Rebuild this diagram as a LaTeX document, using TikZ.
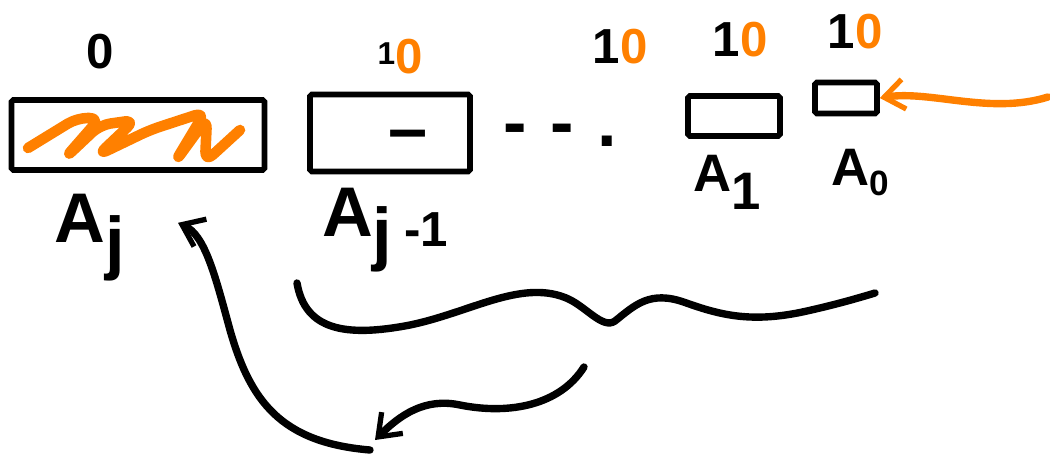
\documentclass[tikz,border=0pt]{standalone}
\usepackage{fontspec}
\setmainfont{Liberation Sans}
\usepackage{tikz}
\usetikzlibrary{arrows.meta,positioning}
\definecolor{pen}{HTML}{FF8000}

\begin{document}
\begin{tikzpicture}[
cell/.style={rectangle, draw, line width=3.2pt, rounded corners=1pt, inner sep=0pt},
bitlbl/.style={font=\fontsize{28}{30}\selectfont\bfseries},
celllbl/.style={font=\fontsize{40}{44}\selectfont\bfseries},
stroke/.style={line width=4.2pt, line cap=round, line join=round},
flow/.style={stroke, -{Straight Barb[length=4mm,width=6mm,line width=3pt]}},
inflow/.style={flow, draw=pen}
]
\useasboundingbox (0,0) rectangle (21,-9.14);
% the cells
\node[cell, minimum width=50.6mm, minimum height=14mm] (Aj) at (2.76,-2.7) {};
\node[cell, minimum width=32mm, minimum height=15.4mm, celllbl] (Ajm) at (7.8,-2.66) {\hspace{.5em}\raisebox{-.55em}{--}};
\node[celllbl] (dots) at (11.2,-2.7) {-\,\,-\,\,.};
\node[cell, minimum width=18.4mm, minimum height=8mm] (A1) at (14.68,-2.32) {};
\node[cell, minimum width=12.4mm, minimum height=6.2mm] (A0) at (16.92,-1.96) {};
% scribble in the top cell
\draw[stroke, pen, line width=6pt, rounded corners=6pt] (0.56,-2.96) -- (1.54,-2.36) -- (2.0,-2.36) -- (1.3,-3.16) -- (2.0,-2.5) -- (2.7,-2.4) -- (1.96,-3.1) -- (3.0,-2.6) -- (4.1,-2.24) -- (3.5,-3.24) -- (4.14,-2.36) -- (4.1,-3.24) -- (4.8,-2.6);
% bits above
\node[bitlbl] (bj) at (2.0,-1.04) {0};
\node[bitlbl] (bjm) at (8.0,-1.14) {\raisebox{.2em}{\fontsize{18}{20}\selectfont 1}\textcolor{pen}{0}};
\node[bitlbl] (bd) at (12.4,-0.94) {1\textcolor{pen}{0}};
\node[bitlbl] (b1) at (14.8,-0.8) {1\textcolor{pen}{0}};
\node[bitlbl] (b0) at (17.1,-0.64) {1\textcolor{pen}{0}};
% names below
\node[celllbl] (nj) at (1.8,-4.75) {A\raisebox{-.35em}{j}};
\node[celllbl] (njm) at (7.7,-4.6) {A\raisebox{-.3em}{j}\,\raisebox{-.15em}{\fontsize{28}{30}\selectfont -1}};
\node[celllbl, font=\fontsize{30}{34}\selectfont\bfseries] (n1) at (14.55,-3.65) {A\raisebox{-.35em}{1}};
\node[celllbl, font=\fontsize{30}{34}\selectfont\bfseries] (n0) at (17.2,-3.45) {A\raisebox{-.2em}{\fontsize{20}{22}\selectfont 0}};
% incoming bit
\coordinate (src) at (20.96,-1.94);
\draw[inflow] (src) .. controls (19.8,-2.3) and (18.6,-1.8) .. (A0.east);
% brace under the low cells
\coordinate (bl) at (5.94,-5.66);
\coordinate (br) at (17.5,-5.86);
\draw[stroke] (bl) .. controls (6.1,-6.6) and (6.9,-6.75) .. (8.2,-6.5)
  .. controls (9.4,-6.25) and (10.4,-5.6) .. (11.3,-5.95)
  .. controls (11.7,-6.1) and (12.05,-6.6) .. (12.3,-6.42)
  .. controls (12.7,-6.1) and (13.0,-5.8) .. (13.7,-6.05)
  .. controls (14.4,-6.3) and (15.0,-6.45) .. (16.0,-6.25)
  .. controls (16.7,-6.1) and (17.2,-5.95) .. (br);
% result flows back to the top cell
\coordinate (fs) at (11.68,-7.34);
\coordinate (fm) at (7.5,-8.8);
\coordinate (fe) at (7.4,-9.0);
\draw[flow] (fs) .. controls (11.2,-8.1) and (10.2,-8.3) .. (9.2,-8.1) .. controls (8.5,-7.95) and (8.0,-8.3) .. (fm);
\draw[flow] (fe) .. controls (5.6,-8.85) and (5.0,-8.0) .. (4.6,-6.6) .. controls (4.3,-5.5) and (4.1,-4.7) .. ([xshift=8mm,yshift=-10mm]Aj.south);
\end{tikzpicture}
\end{document}
